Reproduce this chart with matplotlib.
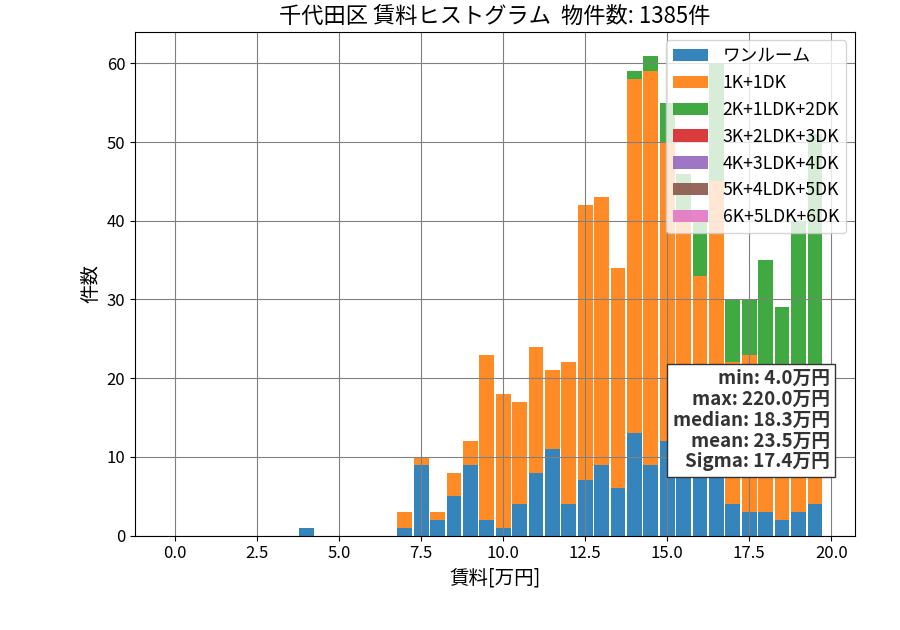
import numpy as np
import matplotlib
matplotlib.use("Agg")
import matplotlib.pyplot as plt

plt.rcParams['font.family'] = ['Noto Sans CJK JP', 'DejaVu Sans']

# bin left edges (万円), width 0.5
bin_starts = [i * 0.5 for i in range(40)]
labels = ["ワンルーム", "1K+1DK", "2K+1LDK+2DK", "3K+2LDK+3DK",
          "4K+3LDK+4DK", "5K+4LDK+5DK", "6K+5LDK+6DK"]

one_room = [0, 0, 0, 0, 0, 0, 0, 0, 1, 0,
            0, 0, 0, 0, 1, 9, 2, 5, 9, 2,
            1, 4, 8, 11, 4, 7, 9, 6, 13, 9,
            12, 12, 14, 11, 4, 3, 3, 2, 3, 4]
k1_dk1 = [0, 0, 0, 0, 0, 0, 0, 0, 0, 0,
          0, 0, 0, 0, 2, 1, 1, 3, 3, 21,
          17, 13, 16, 10, 18, 35, 34, 28, 45, 50,
          38, 28, 19, 34, 18, 20, 16, 12, 14, 8]
k2_ldk = [0, 0, 0, 0, 0, 0, 0, 0, 0, 0,
          0, 0, 0, 0, 0, 0, 0, 0, 0, 0,
          0, 0, 0, 0, 0, 0, 0, 0, 1, 2,
          5, 6, 7, 15, 8, 7, 16, 15, 23, 39]
k3_ldk = [0] * 40
k4_ldk = [0] * 40
k5_ldk = [0] * 40
k6_ldk = [0] * 40

title = "千代田区 賃料ヒストグラム  物件数: 1385件"
stats_text = "min: 4.0万円\nmax: 220.0万円\nmedian: 18.3万円\nmean: 23.5万円\nSigma: 17.4万円"

series = [one_room, k1_dk1, k2_ldk, k3_ldk, k4_ldk, k5_ldk, k6_ldk]
edges = np.arange(0, 20.5, 0.5)

fig = plt.figure(figsize=(9, 6.3), dpi=100)
ax = fig.add_axes([0.15, 0.15, 0.8, 0.8])

ax.hist([bin_starts] * len(series), bins=edges, weights=series,
        stacked=True, align='left', rwidth=0.9, alpha=0.9, label=labels)

ax.grid(True, color='gray', linewidth=0.8)
ax.set_title(title, fontsize=16)
ax.set_xlabel("賃料[万円]", fontsize=14)
ax.set_ylabel("件数", fontsize=14)
ax.tick_params(labelsize=12)
ax.legend(loc='upper right', fontsize=12.7)

ax.text(0.965, 0.33, stats_text, transform=ax.transAxes, ha='right', va='top',
        fontsize=13.5, fontweight='bold', color='#333333', linespacing=1.12,
        bbox=dict(boxstyle='square,pad=0.3', facecolor='white', edgecolor='#333333'))

fig.savefig("out.png", dpi=100)
